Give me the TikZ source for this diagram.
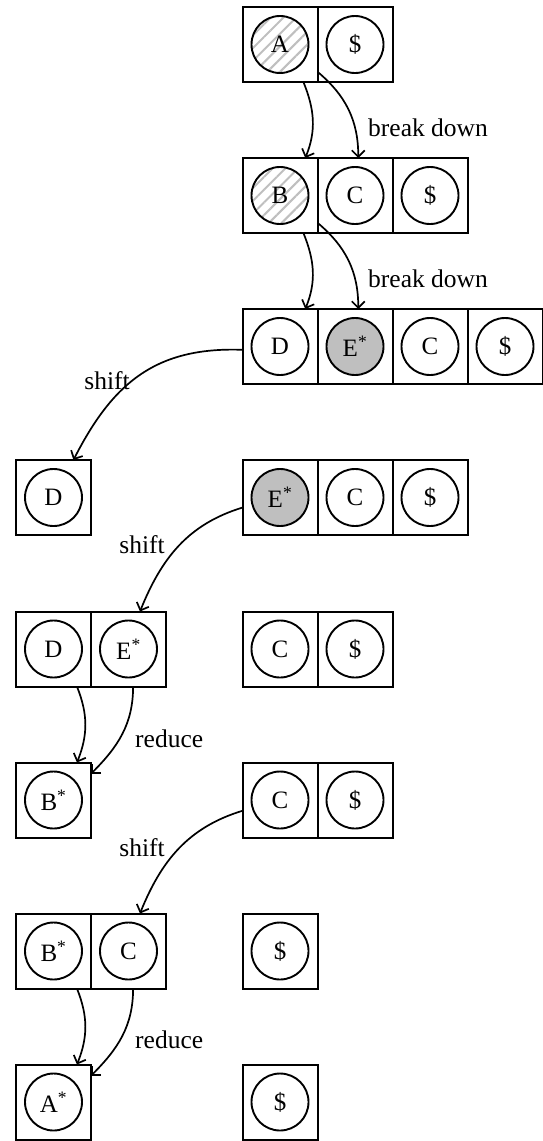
\documentclass[tikz,border=0pt]{standalone}
\usepackage{fontspec}
\setmainfont{Liberation Serif}
\usetikzlibrary{arrows.meta,patterns.meta}
\newcommand\mkcell[4]{\node[cell] (#1) at (#2) {}; \node[tok,#4] (#1t) at (#1) {#3};}
\begin{document}
\begin{tikzpicture}[x=1pt,y=1pt,
  cell/.style={draw, line width=2pt, minimum size=75pt, inner sep=0pt, outer sep=0pt},
  tok/.style={draw, circle, line width=1.9pt, minimum size=57pt, inner sep=0pt, font=\fontsize{25}{29}\selectfont},
  hatched/.style={pattern={Lines[angle=45,distance=9pt,line width=2pt]}, pattern color=gray!50},
  shaded/.style={fill=gray!50},
  conn/.style={line width=1.7pt, -{Straight Barb[length=6.5pt,width=13pt,line width=1.7pt]}},
  lbl/.style={font=\fontsize{25.5}{29}\selectfont, inner sep=0pt},
]
\useasboundingbox (0,0) rectangle (542,-1141);
% row 1
\mkcell{r1a}{280,-44.5}{A}{hatched}
\mkcell{r1b}{355,-44.5}{\$}{}
% row 2
\mkcell{r2a}{280,-195.5}{B}{hatched}
\mkcell{r2b}{355,-195.5}{C}{}
\mkcell{r2c}{430,-195.5}{\$}{}
% row 3
\mkcell{r3a}{280,-346.5}{D}{}
\mkcell{r3b}{355,-346.5}{E\textsuperscript{*}}{shaded}
\mkcell{r3c}{430,-346.5}{C}{}
\mkcell{r3d}{505,-346.5}{\$}{}
% row 4
\mkcell{r4a}{53.5,-497.5}{D}{}
\mkcell{r4e}{280,-497.5}{E\textsuperscript{*}}{shaded}
\mkcell{r4c}{355,-497.5}{C}{}
\mkcell{r4d}{430,-497.5}{\$}{}
% row 5
\mkcell{r5a}{53.5,-649}{D}{}
\mkcell{r5b}{128.5,-649}{E\textsuperscript{*}}{}
\mkcell{r5c}{280,-649}{C}{}
\mkcell{r5d}{355,-649}{\$}{}
% row 6
\mkcell{r6a}{53.5,-800}{B\textsuperscript{*}}{}
\mkcell{r6c}{280,-800}{C}{}
\mkcell{r6d}{355,-800}{\$}{}
% row 7
\mkcell{r7a}{53.5,-951}{B\textsuperscript{*}}{}
\mkcell{r7b}{128.5,-951}{C}{}
\mkcell{r7d}{280,-951}{\$}{}
% row 8
\mkcell{r8a}{53.5,-1102}{A\textsuperscript{*}}{}
\mkcell{r8d}{280,-1102}{\$}{}
% connectors
\draw[conn] (r1a.-58) to[out=-68,in=68] (r2a.56);
\draw[conn] (r1a.-36) to[out=-40,in=90] (r2b.85);
\node[lbl,anchor=base west] (bd1) at (368,-136) {break down};
\draw[conn] (r2a.-58) to[out=-68,in=68] (r3a.56);
\draw[conn] (r2a.-36) to[out=-40,in=90] (r3b.85);
\node[lbl,anchor=base west] (bd2) at (368,-287) {break down};
\draw[conn] (r3a.185) to[out=178,in=63,looseness=1.1] (r4a.62);
\node[lbl,anchor=base east] (sh1) at (130,-389) {shift};
\draw[conn] (r4e.195) to[out=197,in=68] (r5b.73);
\node[lbl,anchor=base east] (sh2) at (165,-553) {shift};
\draw[conn] (r5a.-58) to[out=-68,in=68] (r6a.58);
\draw[conn] (r5b.-83) to[out=-90,in=45] (r6a.35);
\node[lbl,anchor=base west] (rd1) at (135,-747) {reduce};
\draw[conn] (r6c.196) to[out=197,in=68] (r7b.73);
\node[lbl,anchor=base east] (sh3) at (165,-856) {shift};
\draw[conn] (r7a.-58) to[out=-68,in=68] (r8a.58);
\draw[conn] (r7b.-83) to[out=-90,in=45] (r8a.35);
\node[lbl,anchor=base west] (rd2) at (135,-1048) {reduce};
\end{tikzpicture}
\end{document}
